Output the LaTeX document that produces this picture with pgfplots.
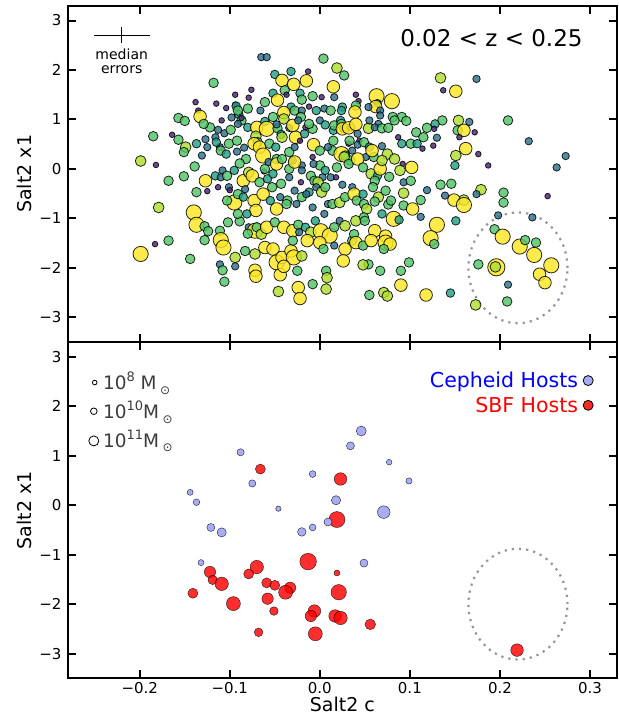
\documentclass[border=0pt]{standalone}
\usepackage{fontspec}
\setmainfont{DejaVu Sans}
\usepackage{pgfplots}
\usepackage{pgfplotstable}
\pgfplotsset{compat=1.18}

\definecolor{cP}{HTML}{482475}
\definecolor{cB}{HTML}{2C728E}
\definecolor{cT}{HTML}{22A085}
\definecolor{cG}{HTML}{52C569}
\definecolor{cL}{HTML}{B0DD2F}
\definecolor{cY}{HTML}{FDE725}
\definecolor{cephfill}{RGB}{170,172,245}
\definecolor{lg}{RGB}{60,60,60}
\definecolor{circgray}{RGB}{150,150,150}

\tikzset{dot/.style={mark=*, draw=black, line width=0.8pt, fill opacity=0.82, draw opacity=0.85}}

\pgfplotstableread{
c x y
B -0.065 2.26
B -0.059 2.26
G 0.004 2.23
L 0.019 2.04
G 0.027 1.89
T -0.032 1.97
T -0.050 1.91
P -0.013 1.97
Y -0.042 1.79
Y -0.029 1.71
Y -0.015 1.78
Y 0.015 1.66
G -0.118 1.74
L 0.134 1.84
B 0.174 1.82
P 0.137 1.59
Y 0.151 1.57
P -0.076 1.60
P -0.094 1.50
T -0.052 1.53
G -0.039 1.59
T -0.022 1.53
P -0.037 1.50
Y -0.047 1.39
G -0.020 1.40
G -0.008 1.47
P 0.002 1.45
B 0.016 1.45
P 0.040 1.50
W 0.063 1.47
W 0.080 1.37
B 0.064 1.33
Y 0.062 1.26
P 0.043 1.37
G 0.040 1.28
P -0.138 1.35
P -0.115 1.32
P -0.079 1.44
P -0.104 1.23
P -0.094 1.30
P -0.135 1.18
T -0.093 1.27
T -0.090 1.10
B -0.098 1.04
P -0.109 0.98
G -0.122 0.84
G -0.087 0.98
G -0.091 1.18
G -0.080 1.22
B -0.066 1.18
G -0.061 1.35
T -0.032 1.25
Y -0.040 1.14
G -0.028 1.18
B -0.020 1.18
G -0.021 1.05
P -0.012 1.26
T -0.004 1.18
B 0.005 1.22
G 0.012 1.18
T 0.025 1.25
T 0.024 1.18
Y 0.039 1.15
B 0.054 1.25
B 0.067 1.18
B 0.067 1.08
G 0.081 1.05
G 0.091 1.05
G 0.096 0.97
G 0.136 0.98
L 0.154 0.98
B 0.166 0.95
T 0.128 0.91
P 0.172 0.74
G 0.209 0.98
G -0.157 1.03
G -0.150 0.97
Y -0.133 1.06
G -0.129 0.91
B -0.113 0.79
B -0.106 0.72
G -0.099 0.79
B -0.091 0.91
P -0.087 1.03
T -0.080 0.84
Y -0.070 0.84
T -0.061 0.96
W -0.059 0.81
L -0.071 0.66
G -0.052 1.05
G -0.047 0.82
B -0.048 0.90
T -0.043 0.70
B -0.034 0.83
Y -0.027 0.64
T -0.017 0.71
L -0.040 1.01
Y -0.030 0.88
B -0.024 0.98
P -0.016 0.84
G -0.008 0.81
G -0.012 0.91
B 0.000 0.98
T 0.006 0.89
T 0.015 0.78
G 0.016 0.88
T 0.023 0.98
G 0.024 0.91
B 0.026 0.81
Y 0.025 0.81
B 0.034 0.84
Y 0.032 0.83
Y 0.040 0.90
B 0.042 0.71
L 0.054 0.82
B 0.055 0.98
B 0.065 0.91
B 0.061 0.84
G 0.069 0.82
G 0.076 0.83
G 0.083 0.98
G 0.107 0.74
G 0.115 0.64
G 0.119 0.83
P 0.127 0.81
B 0.130 0.63
P 0.087 0.64
G 0.153 0.78
Y 0.160 0.78
P 0.155 0.64
G -0.185 0.66
P -0.164 0.69
G -0.157 0.59
L -0.149 0.44
G -0.151 0.34
T -0.137 0.51
B -0.127 0.60
B -0.125 0.44
B -0.131 0.27
B -0.116 0.64
B -0.111 0.44
T -0.115 0.54
G -0.110 0.37
T -0.104 0.30
B -0.092 0.35
G -0.101 0.51
G -0.092 0.57
B -0.084 0.43
G -0.082 0.20
G -0.069 0.54
Y -0.073 0.51
Y -0.067 0.44
W -0.063 0.27
G -0.056 0.51
T -0.049 0.44
G -0.048 0.20
L -0.042 0.64
G -0.034 0.34
B -0.028 0.44
B -0.030 0.17
B -0.020 0.07
P -0.022 0.57
Y -0.007 0.49
G 0.000 0.37
P -0.008 0.24
G 0.000 0.07
G 0.014 0.37
B 0.009 0.44
G 0.015 0.57
W 0.024 0.30
G 0.028 0.27
P 0.032 0.51
G 0.033 0.57
P 0.044 0.57
B 0.036 0.37
G 0.034 0.17
B 0.042 0.49
G 0.049 0.54
T 0.055 0.44
B 0.051 0.24
G 0.060 0.24
Y 0.058 0.37
B 0.069 0.46
L 0.075 0.30
L 0.083 0.20
T 0.091 0.51
G 0.101 0.51
T 0.108 0.51
P 0.114 0.41
P 0.126 0.47
P 0.092 0.10
L 0.151 0.27
Y 0.162 0.41
P 0.176 0.30
B 0.232 0.56
B 0.273 0.26
L -0.199 0.16
P -0.182 0.08
G -0.139 0.05
G -0.168 -0.24
G -0.151 -0.15
Y -0.127 -0.24
P -0.125 -0.45
T -0.116 -0.14
B -0.110 -0.17
B -0.108 -0.03
G -0.103 -0.14
T -0.095 -0.03
G -0.089 0.11
Y -0.085 -0.24
L -0.079 -0.07
Y -0.075 -0.14
G -0.067 -0.27
P -0.062 -0.05
T -0.058 -0.20
G -0.061 0.00
B -0.057 0.14
T -0.052 -0.10
Y -0.048 0.10
G -0.042 0.20
G -0.034 0.00
B -0.034 -0.17
G -0.043 -0.30
G -0.053 -0.37
P -0.021 -0.27
Y -0.028 0.14
B -0.020 -0.03
G -0.010 -0.14
B -0.007 0.10
G -0.006 -0.24
B 0.003 -0.17
L -0.002 -0.27
T 0.006 -0.03
B 0.012 -0.17
P 0.018 -0.17
B 0.025 -0.32
G 0.019 0.03
L 0.027 0.24
G 0.032 0.10
Y 0.042 0.20
G 0.048 0.03
L 0.057 -0.10
T 0.064 -0.14
G 0.077 -0.16
G 0.061 -0.24
Y 0.067 0.00
L 0.069 0.17
L 0.089 -0.03
B 0.093 -0.27
G 0.101 -0.24
Y 0.102 0.03
G 0.134 -0.32
G 0.146 -0.30
T 0.150 0.07
L 0.179 -0.42
B 0.174 -0.51
P 0.187 0.07
G 0.204 -0.48
B 0.263 0.03
L -0.179 -0.78
G -0.137 -0.47
P -0.113 -0.37
B -0.101 -0.37
P -0.100 -0.43
W -0.095 -0.68
G -0.103 -0.64
G -0.091 -0.51
T -0.085 -0.57
B -0.083 -0.41
Y -0.073 -0.64
Y -0.071 -0.84
Y -0.063 -0.51
T -0.055 -0.64
Y -0.048 -0.81
B -0.044 -0.57
G -0.036 -0.64
G -0.037 -0.71
B -0.026 -0.71
B -0.028 -0.44
G -0.020 -0.57
T -0.012 -0.47
B -0.015 -0.51
B -0.004 -0.37
L 0.002 -0.47
G 0.006 -0.37
B -0.008 -0.78
B 0.009 -0.71
B 0.005 -0.91
G 0.014 -0.71
L 0.022 -0.68
G 0.028 -0.57
B 0.036 -0.37
Y 0.038 -0.51
G 0.041 -0.64
G 0.049 -0.71
T 0.048 -0.51
L 0.052 -0.81
G 0.059 -0.37
L 0.065 -0.57
G 0.061 -0.66
G 0.076 -0.72
T 0.069 -0.91
G 0.073 -0.44
G 0.079 -0.64
G 0.093 -0.74
L 0.093 -0.49
Y 0.103 -0.81
G 0.112 -0.63
B 0.119 -0.43
B 0.139 -0.54
Y 0.149 -0.63
L 0.160 -0.63
W 0.160 -0.73
G 0.204 -0.68
P 0.253 -0.55
B 0.198 -0.94
B 0.236 -0.98
W -0.140 -0.88
W -0.137 -1.13
G -0.128 -1.16
G -0.124 -1.26
G -0.111 -1.25
G -0.102 -1.08
G -0.089 -1.06
G -0.091 -0.91
T -0.081 -0.91
B -0.079 -1.18
W -0.072 -1.25
G -0.080 -1.31
G -0.070 -1.18
L -0.065 -1.32
Y -0.059 -1.18
G -0.050 -1.08
Y -0.040 -1.18
Y -0.030 -1.25
G -0.024 -1.13
B -0.023 -1.28
T -0.016 -1.18
T -0.005 -1.05
L -0.010 -1.28
W 0.001 -1.26
W 0.011 -1.35
G 0.016 -1.18
B 0.022 -1.05
L 0.028 -1.15
L 0.040 -1.05
G 0.049 -0.98
G 0.050 -1.05
Y 0.061 -1.25
Y 0.073 -1.36
W 0.082 -1.01
T 0.088 -1.03
B 0.112 -0.97
W 0.130 -1.13
W 0.123 -1.40
G 0.127 -1.52
T 0.151 -1.05
G 0.194 -1.22
W 0.203 -1.37
W 0.222 -1.57
G 0.228 -1.44
G 0.240 -1.49
W 0.238 -1.74
W -0.199 -1.72
P -0.183 -1.52
G -0.168 -1.45
G -0.128 -1.44
W -0.110 -1.44
W -0.107 -1.59
L -0.094 -1.79
G -0.083 -1.66
L -0.072 -1.72
Y -0.061 -1.59
Y -0.052 -1.62
W -0.048 -1.89
Y -0.042 -1.79
Y -0.032 -1.66
G -0.030 -1.45
W -0.029 -1.79
L -0.020 -1.76
Y -0.014 -1.45
Y 0.000 -1.49
G 0.004 -1.62
B 0.016 -1.55
Y 0.028 -1.62
G 0.036 -1.45
G 0.038 -1.32
Y 0.040 -1.49
G 0.048 -1.55
Y 0.057 -1.45
W 0.073 -1.49
Y 0.078 -1.52
G 0.054 -1.93
G 0.071 -1.62
G 0.099 -1.89
G 0.176 -1.93
X 0.196 -1.99
L 0.195 -1.98
W 0.257 -1.95
Y 0.244 -2.13
Y 0.250 -2.30
B 0.209 -2.34
G -0.144 -1.82
B -0.111 -1.93
G -0.108 -2.05
G -0.106 -2.28
B -0.094 -1.97
Y -0.072 -2.05
Y -0.071 -2.17
L -0.046 -2.48
Y -0.044 -2.14
Y -0.040 -1.97
G -0.025 -2.06
Y -0.024 -2.40
Y -0.022 -2.62
G -0.008 -2.33
G 0.007 -2.06
L 0.008 -2.20
L 0.007 -2.43
Y 0.026 -1.86
L 0.048 -1.94
G 0.067 -2.06
G 0.090 -2.06
Y 0.090 -2.35
G 0.055 -2.55
L 0.071 -2.50
L 0.075 -2.57
Y 0.118 -2.55
T 0.145 -2.51
L 0.173 -2.75
G 0.208 -2.68
}\toptable

\pgfplotstableread{
x y r
0.046 1.50 5.0
0.034 1.20 4.0
-0.088 1.07 3.6
0.077 0.87 2.8
-0.008 0.63 3.4
-0.075 0.44 3.6
0.099 0.49 3.1
-0.144 0.26 3.0
-0.137 0.06 3.3
-0.046 -0.07 2.7
0.018 0.10 4.6
0.071 -0.14 6.3
0.009 -0.34 4.0
-0.121 -0.45 4.0
-0.109 -0.55 4.6
-0.020 -0.54 4.3
-0.008 -0.45 3.4
-0.132 -1.16 3.0
0.049 -1.17 4.0
}\cephtable

\pgfplotstableread{
x y r
-0.066 0.73 5.0
0.023 0.53 6.3
0.019 -0.29 8.0
-0.013 -1.14 8.3
-0.070 -1.25 6.7
-0.122 -1.35 5.7
-0.079 -1.39 5.0
-0.119 -1.51 4.7
-0.109 -1.59 6.7
-0.059 -1.57 5.0
0.019 -1.37 3.0
-0.050 -1.62 5.0
-0.033 -1.67 5.7
-0.038 -1.76 7.0
0.021 -1.76 7.7
-0.141 -1.78 5.0
-0.096 -1.99 7.0
-0.058 -1.89 5.7
-0.051 -2.14 4.3
-0.006 -2.14 6.3
-0.010 -2.24 5.7
0.017 -2.24 6.3
0.023 -2.28 6.7
0.056 -2.41 5.3
-0.068 -2.57 4.3
-0.005 -2.60 7.0
0.219 -2.93 6.3
}\sbftable

\pgfplotsset{
  panel/.style={
    scale only axis, width=549.3pt, height=336.3pt,
    xmin=-0.28, xmax=0.33, ymin=-3.5, ymax=3.3,
    xtick={-0.2,-0.1,0,0.1,0.2,0.3},
    ytick={-3,-2,-1,0,1,2,3},
    yticklabels={−3,−2,−1,0,1,2,3},
    minor tick num=0,
    tick align=inside,
    major tick length=8pt,
    tick style={line width=2pt, black},
    axis line style={line width=2.2pt, black},
    tick label style={font=\fontsize{15}{18}\selectfont},
    yticklabel style={anchor=east, inner sep=0pt, xshift=-6pt},
    ylabel={Salt2 x1},
    every axis y label/.style={at={(axis description cs:0,0.5)}, xshift=-36pt, rotate=90, anchor=base, font=\fontsize{19}{22}\selectfont},
  }
}

\begin{document}
\begin{tikzpicture}
% ---------------- bottom panel ----------------
\begin{axis}[panel, at={(0pt,0pt)}, anchor=south west,
  xticklabels={−0.2,−0.1,0.0,0.1,0.2,0.3},
  xticklabel style={anchor=base, inner sep=0pt, yshift=-14.7pt},
  xlabel={Salt2 c},
  every axis x label/.style={at={(axis description cs:0.5,0)}, yshift=-32.7pt, anchor=base, font=\fontsize{19}{22}\selectfont}]

\draw[circgray, line width=2.2pt, dash pattern=on 2.2pt off 5pt] (axis cs:0.22,-2.0) ellipse [x radius=0.055, y radius=1.12];

\addplot[scatter, only marks, mark=*, scatter src=explicit,
  scatter/use mapped color={draw=black, fill=red, fill opacity=0.82, draw opacity=0.85},
  visualization depends on={\thisrow{r} \as \rr},
  scatter/@pre marker code/.append style={/tikz/mark size=\rr pt, /tikz/line width=0.8pt}]
  table[x=x, y=y, meta=r] \sbftable;

\addplot[scatter, only marks, mark=*, scatter src=explicit,
  scatter/use mapped color={draw=black, fill=cephfill, draw opacity=0.85},
  visualization depends on={\thisrow{r} \as \rr},
  scatter/@pre marker code/.append style={/tikz/mark size=\rr pt, /tikz/line width=0.8pt}]
  table[x=x, y=y, meta=r] \cephtable;

% size legend
\addplot[only marks, mark=*, mark size=2.3pt, mark options={draw=black, fill=white, line width=0.8pt}] coordinates {(-0.250,2.48)};
\addplot[only marks, mark=*, mark size=3.3pt, mark options={draw=black, fill=white, line width=0.8pt}] coordinates {(-0.251,1.90)};
\addplot[only marks, mark=*, mark size=5.0pt, mark options={draw=black, fill=white, line width=0.8pt}] coordinates {(-0.251,1.30)};
\node[anchor=base west, inner sep=0pt, text=lg, font=\fontsize{18.5}{22}\selectfont] at (axis cs:-0.241,2.34) {10\raisebox{0.8ex}{\fontsize{13}{13}\selectfont 8} M\kern3.5pt\raisebox{-0.45ex}{\fontsize{12}{12}\selectfont ⊙}};
\node[anchor=base west, inner sep=0pt, text=lg, font=\fontsize{18.5}{22}\selectfont] at (axis cs:-0.241,1.75) {10\raisebox{0.8ex}{\fontsize{13}{13}\selectfont 10}M\kern3.5pt\raisebox{-0.45ex}{\fontsize{12}{12}\selectfont ⊙}};
\node[anchor=base west, inner sep=0pt, text=lg, font=\fontsize{18.5}{22}\selectfont] at (axis cs:-0.241,1.17) {10\raisebox{0.8ex}{\fontsize{13}{13}\selectfont 11}M\kern3.5pt\raisebox{-0.45ex}{\fontsize{12}{12}\selectfont ⊙}};

% host legend
\addplot[only marks, mark=*, mark size=5pt, mark options={draw=black, fill=cephfill, line width=0.8pt}] coordinates {(0.298,2.52)};
\addplot[only marks, mark=*, mark size=5pt, mark options={draw=black, fill=red, fill opacity=0.85, line width=0.8pt}] coordinates {(0.298,2.02)};
\node[anchor=base east, inner sep=0pt, text=blue, font=\fontsize{20.5}{24}\selectfont] at (axis cs:0.287,2.38) {Cepheid Hosts};
\node[anchor=base east, inner sep=0pt, text=red, font=\fontsize{20.5}{24}\selectfont] at (axis cs:0.287,1.88) {SBF Hosts};
\end{axis}

% ---------------- top panel ----------------
\begin{axis}[panel, at={(0pt,336.3pt)}, anchor=south west, xticklabels={}]

\draw[circgray, line width=2.2pt, dash pattern=on 2.2pt off 5pt] (axis cs:0.22,-2.0) ellipse [x radius=0.055, y radius=1.12];

\addplot[scatter, only marks, scatter src=explicit symbolic,
  scatter/classes={
    P={dot, mark size=2.8pt, fill=cP},
    B={dot, mark size=3.7pt, fill=cB},
    T={dot, mark size=4.3pt, fill=cT},
    G={dot, mark size=4.8pt, fill=cG},
    L={dot, mark size=5.4pt, fill=cL},
    Y={dot, mark size=6.3pt, fill=cY},
    W={dot, mark size=7.6pt, fill=cY},
    X={dot, mark size=8.6pt, fill=cY}}]
  table[x=x, y=y, meta=c] \toptable;

% median errors
\addplot[draw=none, mark=none, forget plot,
  error bars/.cd, x dir=both, x explicit, y dir=both, y explicit,
  error mark=none, error bar style={draw=black, line width=1pt}]
  coordinates {(-0.220,2.70) +- (0.031,0.16)};
\node[anchor=base, inner sep=0pt, font=\fontsize{14}{16}\selectfont] at (axis cs:-0.220,2.21) {median};
\node[anchor=base, inner sep=0pt, font=\fontsize{14}{16}\selectfont] at (axis cs:-0.220,1.93) {errors};

\node[anchor=base east, inner sep=0pt, font=\fontsize{23}{27}\selectfont] at (axis cs:0.292,2.48) {0.02 < z < 0.25};
\end{axis}

\pgfresetboundingbox
\path[use as bounding box] (-67.7pt,-42.7pt) rectangle (551.3pt,678.3pt);
\end{tikzpicture}
\end{document}
